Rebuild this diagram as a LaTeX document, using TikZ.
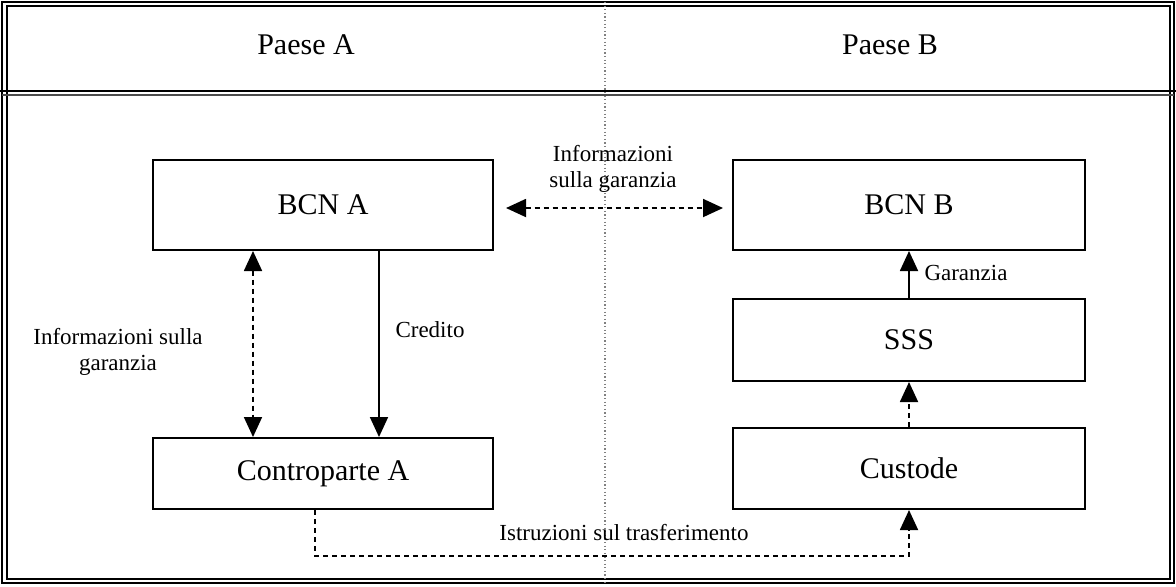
\documentclass[tikz,border=0pt]{standalone}
\usepackage{fontspec}
\setmainfont{Liberation Serif}
\usetikzlibrary{arrows.meta}
\begin{document}
\begin{tikzpicture}[x=0.5pt,y=-0.5pt,
  box/.style={draw,line width=1pt,inner sep=0pt,font=\fontsize{15}{18}\selectfont},
  lbl/.style={font=\fontsize{11.5}{14}\selectfont,align=center,inner sep=0pt},
  hdr/.style={font=\fontsize{15}{18}\selectfont,inner sep=0pt},
  frame/.style={line width=0.9pt},
  conn/.style={line width=0.9pt},
  dsh/.style={conn,dash pattern=on 2.5pt off 2pt},
  tip/.style={-{Triangle[length=10pt,width=9pt]}},
  tips/.style={{Triangle[length=10pt,width=9pt]}-{Triangle[length=10pt,width=9pt]}}
]
\useasboundingbox (0,0) rectangle (1176,586);
% frame
\draw[frame] (2,2) rectangle (1174,583);
\draw[frame] (7,6) rectangle (1170,579);
\draw[line width=1.1pt] (0,91) -- (1176,91);
\draw[frame,black!70] (2,95) -- (1174,95);
\draw[gray,line width=0.6pt,dash pattern=on 0.6pt off 1.2pt] (605,2) -- (605,583);
% headers
\node[hdr] (pa) at (306,45) {Paese A};
\node[hdr] (pb) at (890,45) {Paese B};
% boxes
\node[box,minimum width=170pt,minimum height=45pt] (bcna) at (323,205) {BCN A};
\node[box,minimum width=176pt,minimum height=45pt] (bcnb) at (909,205) {BCN B};
\node[box,minimum width=176pt,minimum height=41pt] (sss) at (909,340) {SSS};
\node[box,minimum width=176pt,minimum height=40.5pt] (cus) at (909,468.5) {Custode};
\node[box,minimum width=170pt,minimum height=35.5pt] (cpa) at (323,473.5) {Controparte A};
% helper coordinates
\coordinate (xa) at (253,0);
\coordinate (xc) at (379,0);
\coordinate (xb) at (315,0);
\coordinate (yb) at (0,556);
\coordinate (yh) at (0,208);
% connectors
\draw[dsh,tips,shorten <=6pt,shorten >=4.5pt] (bcna.east |- yh) -- (bcnb.west |- yh);
\draw[dsh,tips] (bcna.south -| xa) -- (cpa.north -| xa);
\draw[conn,tip] (bcna.south -| xc) -- (cpa.north -| xc);
\draw[conn,tip] (sss.north) -- (bcnb.south);
\draw[dsh,tip] (cus.north) -- (sss.south);
\draw[dsh,tip] (cpa.south -| xb) -- (xb |- yb) -- (cus.south |- yb) -- (cus.south);
% labels
\node[lbl] (l1) at (613,169) {Informazioni\\[-1pt]sulla garanzia};
\node[lbl] (l2) at (118,352) {Informazioni sulla\\[-1pt]garanzia};
\node[lbl] (l3) at (430,330) {Credito};
\node[lbl] (l4) at (966,273) {Garanzia};
\node[lbl] (l5) at (624,532) {Istruzioni sul trasferimento};
\end{tikzpicture}
\end{document}
